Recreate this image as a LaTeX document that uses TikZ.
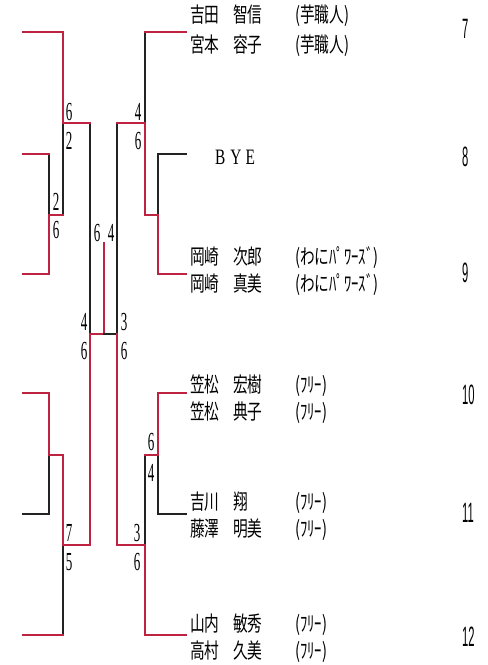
\documentclass[tikz,border=0pt]{standalone}
\usepackage{fontspec}
\usepackage{xcolor}
\usepackage{tikz}
\newfontfamily\jpfont[FakeStretch=0.7]{Noto Sans CJK JP}
\newfontfamily\scorefont[FakeStretch=0.5]{Liberation Serif}
\newfontfamily\seedfont[FakeStretch=0.4]{Liberation Sans}
\newfontfamily\byefont[FakeStretch=0.7]{Liberation Serif}
\definecolor{winred}{RGB}{190,35,65}
\definecolor{loseblack}{RGB}{35,35,35}
\newcommand{\pairline}[3]{\makebox[43pt][l]{#1}\makebox[62pt][l]{#2}#3}

\begin{document}
\begin{tikzpicture}[x=1pt, y=-1pt,
        win/.style={draw=winred, line width=2pt, line cap=rect},
        lose/.style={draw=loseblack, line width=2pt, line cap=rect},
        score/.style={inner sep=0pt, font=\scorefont\fontsize{26}{26}\selectfont},
        seed/.style={inner sep=0pt, anchor=west, font=\seedfont\fontsize{28}{28}\selectfont},
        player/.style={inner sep=0pt, anchor=west, font=\jpfont\fontsize{21}{21}\selectfont}]
    \useasboundingbox (0,0) rectangle (488,665);

    % leaf ends on the right
    \coordinate (e7) at (186,32);
    \coordinate (e8) at (186,154);
    \coordinate (e9) at (186,274);
    \coordinate (e10) at (186,393);
    \coordinate (e11) at (186,514);
    \coordinate (e12) at (186,635);

    % left half
    \draw[lose] (63,123) -- (63,215);
    \draw[lose] (49,154) -- (49,215);
    \draw[lose] (90,123) -- (90,334);
    \draw[lose] (23,514) -| (49,455);
    \draw[lose] (63,545) -- (63,635);
    \draw[win] (23,32) -| (63,123) -- (90,123);
    \draw[win] (23,154) -- (49,154);
    \draw[win] (23,274) -| (49,215) -- (63,215);
    \draw[win] (23,393) -| (49,455) -- (63,455);
    \draw[win] (23,635) -- (63,635);
    \draw[win] (63,455) |- (90,545) |- (104,334) -- (104,243);

    % right half
    \draw[lose] (104,334) -- (117,334);
    \draw[lose] (117,123) -- (117,334);
    \draw[lose] (145,123) -- (145,32);
    \draw[lose] (158,215) |- (e8);
    \draw[lose] (145,455) -- (145,545);
    \draw[lose] (158,455) |- (e11);
    \draw[win] (145,32) -- (e7);
    \draw[win] (117,123) -| (145,215) -| (158,274) -- (e9);
    \draw[win] (117,334) |- (145,545) |- (e12);
    \draw[win] (145,455) -| (158,393) -- (e10);

    % scores
    \node[score] (m1a) at (69,112) {6};
    \node[score] (m1b) at (69,141) {2};
    \node[score] (m2a) at (56,202) {2};
    \node[score] (m2b) at (56,230) {6};
    \node[score] (m3a) at (69,533) {7};
    \node[score] (m3b) at (69,562) {5};
    \node[score] (m4a) at (84,322) {4};
    \node[score] (m4b) at (84,351) {6};
    \node[score] (fa) at (97,233) {6};
    \node[score] (fb) at (111,233) {4};
    \node[score] (m5a) at (124,322) {3};
    \node[score] (m5b) at (124,351) {6};
    \node[score] (m6a) at (138,112) {4};
    \node[score] (m6b) at (138,141) {6};
    \node[score] (m7a) at (151,442) {6};
    \node[score] (m7b) at (151,473) {4};
    \node[score] (m8a) at (137,533) {3};
    \node[score] (m8b) at (137,562) {6};

    % players
    \node[player] (p7a) at (190,16) {\pairline{吉田}{智信}{(芋職人)}};
    \node[player] (p7b) at (190,46) {\pairline{宮本}{容子}{(芋職人)}};
    \node[inner sep=0pt, anchor=west, font=\byefont\fontsize{22}{22}\selectfont] (bye) at (215,157) {B\hspace{5pt}Y\hspace{4pt}E};
    \node[player] (p9a) at (190,258) {\pairline{岡崎}{次郎}{(わにﾊﾟﾜｰｽﾞ)}};
    \node[player] (p9b) at (190,285) {\pairline{岡崎}{真美}{(わにﾊﾟﾜｰｽﾞ)}};
    \node[player] (p10a) at (190,386) {\pairline{笠松}{宏樹}{(ﾌﾘｰ)}};
    \node[player] (p10b) at (190,413) {\pairline{笠松}{典子}{(ﾌﾘｰ)}};
    \node[player] (p11a) at (190,503) {\pairline{吉川}{翔}{(ﾌﾘｰ)}};
    \node[player] (p11b) at (190,530) {\pairline{藤澤}{明美}{(ﾌﾘｰ)}};
    \node[player] (p12a) at (190,625) {\pairline{山内}{敏秀}{(ﾌﾘｰ)}};
    \node[player] (p12b) at (190,652) {\pairline{高村}{久美}{(ﾌﾘｰ)}};

    % seed numbers
    \node[seed] (n7) at (462,29) {7};
    \node[seed] (n8) at (462,157) {8};
    \node[seed] (n9) at (462,273) {9};
    \node[seed] (n10) at (462,395) {10};
    \node[seed] (n11) at (462,513) {11};
    \node[seed] (n12) at (462,637) {12};
\end{tikzpicture}
\end{document}
